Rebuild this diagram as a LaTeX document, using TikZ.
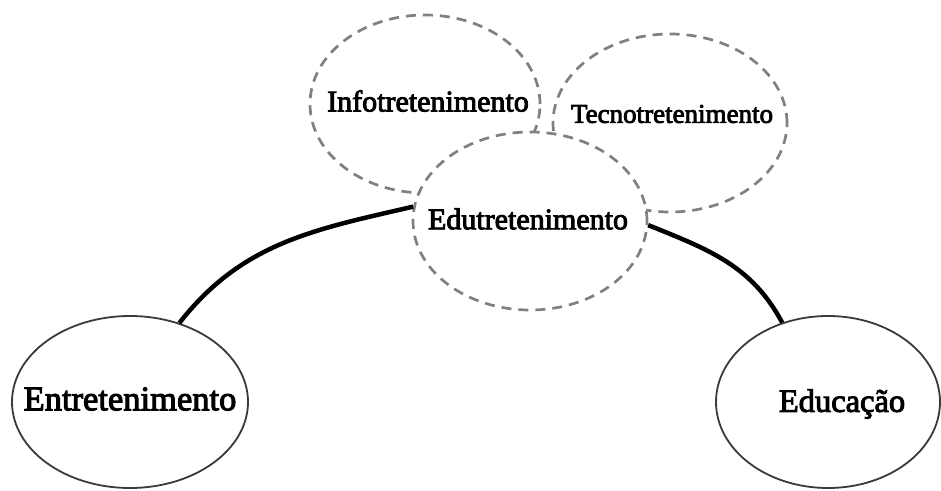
\documentclass[tikz,border=0pt]{standalone}
\usepackage{fontspec}
\setmainfont{Liberation Serif}
\newfontfamily\lblfont{Liberation Serif}[FakeBold=3]
\usetikzlibrary{shapes.geometric}
\definecolor{dashgray}{HTML}{808080}
\definecolor{solidgray}{HTML}{3A3A3A}
\tikzset{
  mainellipse/.style={ellipse, draw=solidgray, line width=1.8pt, fill=white, inner sep=0pt},
  subellipse/.style={ellipse, draw=dashgray, line width=2.7pt, dash pattern=on 10pt off 7pt, fill=white, inner sep=0pt},
  lbl/.style={inner sep=0pt, text=black},
  link/.style={line width=4.5pt, black}
}
\begin{document}
\begin{tikzpicture}[x=1pt,y=1pt]
\useasboundingbox[fill=white] (0,0) rectangle (941,490);
% dashed ellipses
\node[subellipse, minimum width=230pt, minimum height=178pt] (info) at (425,386) {};
\node[subellipse, minimum width=234pt, minimum height=178pt] (tecno) at (670,367) {};
\node[subellipse, minimum width=234pt, minimum height=178pt] (edut) at (530,269) {};
% main ellipses
\node[mainellipse, minimum width=236pt, minimum height=172pt] (ent) at (130,88) {};
\node[mainellipse, minimum width=224pt, minimum height=172pt] (educ) at (828,88) {};
% labels
\node[lbl, font=\lblfont\fontsize{30}{32}\selectfont] (infoT) at (428,389) {Infotretenimento};
\node[lbl, font=\lblfont\fontsize{27}{29}\selectfont] (tecnoT) at (672,376) {Tecnotretenimento};
\node[lbl, font=\lblfont\fontsize{30}{32}\selectfont] (edutT) at (528,271) {Edutretenimento};
\node[lbl, font=\lblfont\fontsize{34.5}{36}\selectfont] (entT) at (130,91) {Entretenimento};
\node[lbl, font=\lblfont\fontsize{32.5}{34}\selectfont] (educT) at (842,86) {Educação};
% connectors
\draw[link] (ent.58) to[out=52, in=193] (edut.173);
\draw[link] (edut.358) to[out=-22, in=118] (educ.120);
\end{tikzpicture}
\end{document}
